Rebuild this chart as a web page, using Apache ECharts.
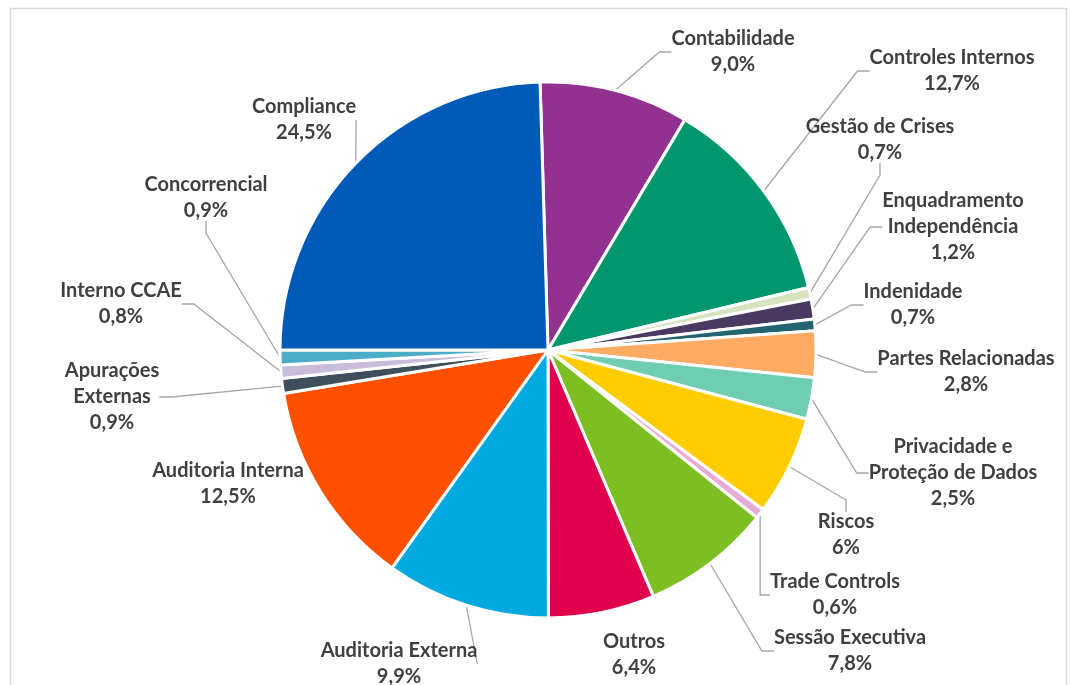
<!DOCTYPE html>
<html>
<head>
<meta charset="utf-8">
<style>
  html, body { margin: 0; padding: 0; background: #ffffff; }
  #chart { width: 1070px; height: 685px; }
</style>
<script src="https://cdn.jsdelivr.net/npm/echarts@6/dist/echarts.min.js"></script>
</head>
<body>
<div id="chart"></div>
<script>
// ---- data ----
const categories = [
  'Contabilidade', 'Controles Internos', 'Gestão de Crises', 'Enquadramento\nIndependência',
  'Indenidade', 'Partes Relacionadas', 'Privacidade e\nProteção de Dados', 'Riscos',
  'Trade Controls', 'Sessão Executiva', 'Outros', 'Auditoria Externa', 'Auditoria Interna',
  'Apurações\nExternas', 'Interno CCAE', 'Concorrencial', 'Compliance'
];
const values = [9.0, 12.7, 0.7, 1.2, 0.7, 2.8, 2.5, 6, 0.6, 7.8, 6.4, 9.9, 12.5, 0.9, 0.8, 0.9, 24.5];
const percentLabels = ['9,0%', '12,7%', '0,7%', '1,2%', '0,7%', '2,8%', '2,5%', '6%', '0,6%', '7,8%', '6,4%', '9,9%', '12,5%', '0,9%', '0,8%', '0,9%', '24,5%'];

// ---- styling / label placement (not data) ----
const palette = [
  '#92318F', '#00976F', '#D6E4BF', '#4A3A62', '#22646F', '#FFAB63', '#6FCEB2', '#FFCC00',
  '#E6ABD6', '#7DBE22', '#E0004D', '#00A9E0', '#FF5000', '#3E4F5C', '#C9BDDB', '#4BADC8', '#005AB8'
];
// centre of each data-label text block, as placed in the original layout
const labelCenters = [
  [733, 52], [952, 71], [880, 140], [953, 227], [913, 305], [966, 372], [953, 473], [846, 535],
  [835, 595], [850, 651], [634, 655], [399, 664], [228, 484], [112, 397], [121, 304], [206, 198], [304, 120]
];
const noLeader = ['Outros', 'Auditoria Interna'];

const chart = echarts.init(document.getElementById('chart'));
const data = categories.map((c, i) => ({
  name: c,
  value: values[i],
  pct: percentLabels[i],
  labelLine: { show: noLeader.indexOf(c) < 0 }
}));

chart.setOption({
  animation: false,
  color: palette,
  graphic: [{
    type: 'rect',
    shape: { x: 10.5, y: 8.5, width: 1056, height: 720 },
    style: { fill: 'none', stroke: '#d9d9d9', lineWidth: 1.5 },
    silent: true
  }],
  series: [{
    type: 'pie',
    center: [548, 350],
    radius: 268,
    startAngle: 91.7,
    clockwise: true,
    data: data,
    itemStyle: { borderColor: '#ffffff', borderWidth: 3 },
    label: {
      show: true,
      position: 'outside',
      formatter: p => {
        const lines = p.name.split('\n').map(s => '{t|' + s + '}');
        lines.push('{t|' + p.data.pct + '}');
        return lines.join('\n');
      },
      rich: {
        t: { fontFamily: 'Lato', fontWeight: 'bold', fontSize: 20, color: '#404040', lineHeight: 26, align: 'center' }
      }
    },
    labelLine: {
      show: true,
      length: 18,
      length2: 12,
      lineStyle: { color: '#a6a6a6', width: 1.3 }
    },
    labelLayout: function (params) {
      const c = labelCenters[params.dataIndex];
      return { x: c[0], y: c[1], align: 'center', verticalAlign: 'middle' };
    }
  }]
});
</script>
</body>
</html>
